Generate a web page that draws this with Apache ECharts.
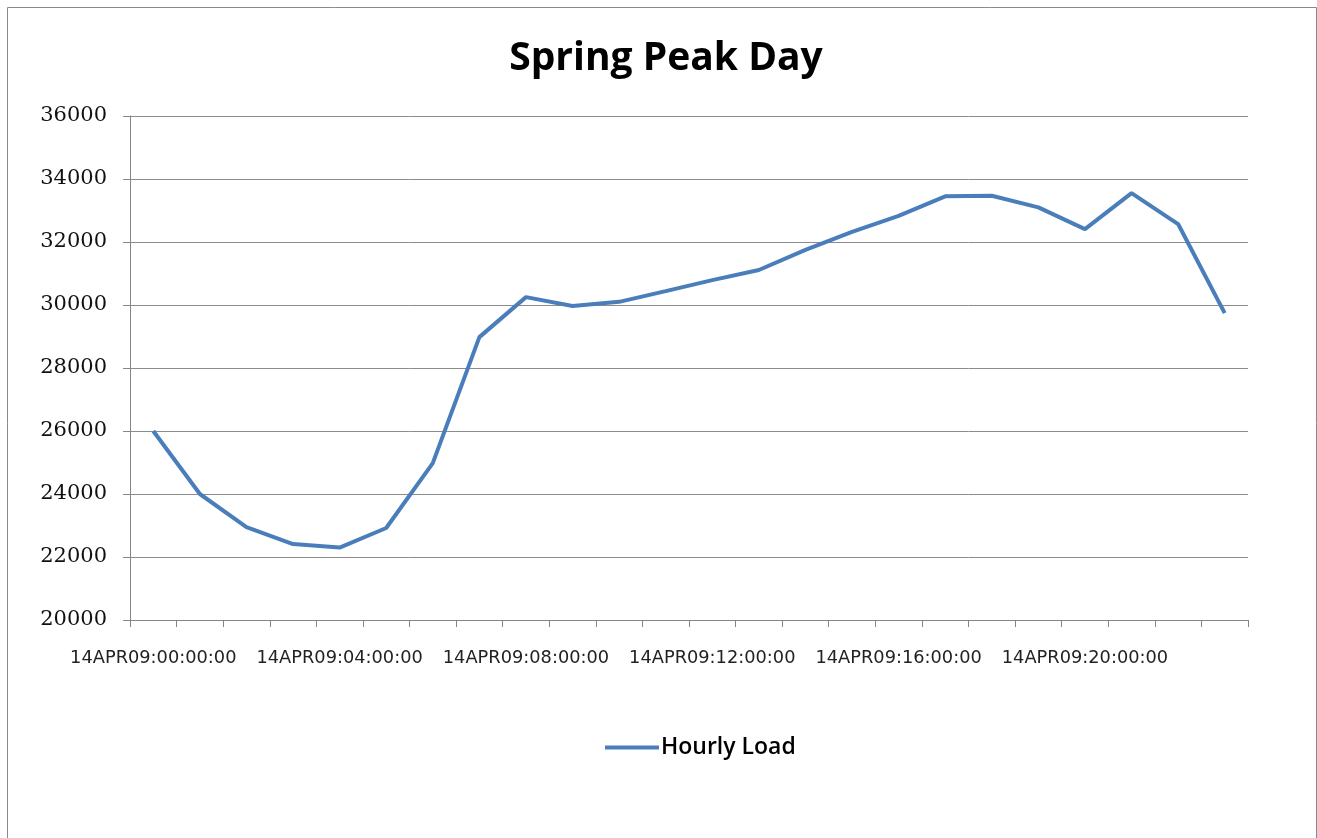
<!DOCTYPE html>
<html>
<head>
<meta charset="utf-8">
<script src="https://cdn.jsdelivr.net/npm/echarts@6/dist/echarts.min.js"></script>
<style>
  html, body { margin: 0; padding: 0; background: #fff; }
  #chart { width: 1317px; height: 838px; }
</style>
</head>
<body>
<div id="chart"></div>
<script>
// hourly categories 00..23
const hours = ["00","01","02","03","04","05","06","07","08","09","10","11",
               "12","13","14","15","16","17","18","19","20","21","22","23"];
const categories = hours.map(h => "14APR09:" + h + ":00:00");
// values
const hourlyLoad = [26000, 24000, 22950, 22410, 22300, 22920, 24980, 28980,
                    30250, 29970, 30100, 30440, 30790, 31110, 31750, 32320,
                    32830, 33450, 33470, 33100, 32410, 33550, 32570, 29740];
const yMin = 20000, yMax = 36000, yStep = 2000;

let myChart = echarts.init(document.getElementById("chart"));
myChart.setOption({
  animation: false,
  backgroundColor: "#fff",
  // frame around the chart area
  graphic: [{
    type: "rect",
    shape: { x: 7.5, y: 7.5, width: 1309, height: 850 },
    style: { fill: "none", stroke: "#8a8a8a", lineWidth: 1 },
    silent: true
  }],
  title: {
    text: "Spring Peak Day",
    left: 661,
    textAlign: "center",
    top: 34,
    textStyle: { fontFamily: "Open Sans", fontWeight: "bold", fontSize: 39, color: "#000" }
  },
  legend: {
    data: ["Hourly Load"],
    left: 600,
    top: 731,
    icon: "rect",
    itemWidth: 54,
    itemHeight: 4,
    itemGap: 5,
    textStyle: { fontFamily: "Open Sans", fontWeight: 600, fontSize: 23, color: "#000", padding: [0, 0, 0, -3] }
  },
  grid: { left: 130, right: 69, top: 116, bottom: 218 },
  xAxis: {
    type: "category",
    data: categories,
    boundaryGap: true,
    axisLine: { lineStyle: { color: "#868686", width: 1 } },
    axisTick: { show: true, length: 7, interval: 0, lineStyle: { color: "#868686" } },
    axisLabel: {
      interval: 3,
      margin: 29,
      fontFamily: "DejaVu Sans",
      fontSize: 17.8,
      color: "#222"
    },
    splitLine: { show: false }
  },
  yAxis: {
    type: "value",
    min: yMin,
    max: yMax,
    interval: yStep,
    axisLine: { show: true, lineStyle: { color: "#868686", width: 1 } },
    axisTick: { show: true, length: 7, lineStyle: { color: "#868686" } },
    axisLabel: {
      margin: 23,
      fontFamily: "DejaVu Serif",
      fontSize: 21,
      color: "#111",
      formatter: v => String(v)
    },
    splitLine: { lineStyle: { color: "#8c8c8c", width: 1 } }
  },
  series: [{
    name: "Hourly Load",
    type: "line",
    data: hourlyLoad,
    showSymbol: false,
    symbol: "none",
    lineStyle: { color: "#4a7ebb", width: 4 },
    itemStyle: { color: "#4a7ebb" }
  }]
});
</script>
</body>
</html>
